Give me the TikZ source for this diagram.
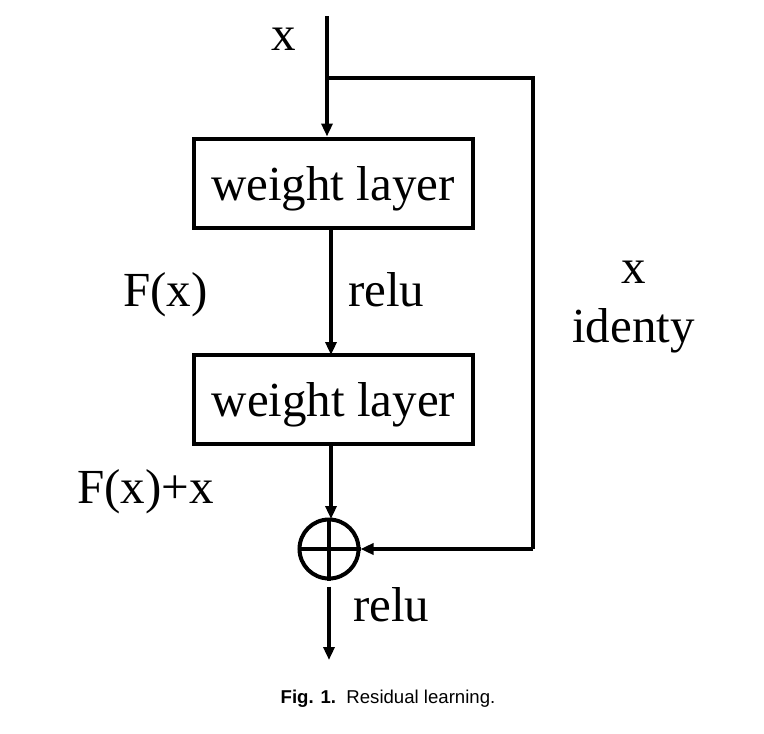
\documentclass[tikz,border=0pt]{standalone}
\usepackage{fontspec}
\setmainfont{Liberation Serif}
\newfontfamily\capfont{Liberation Sans}
\usetikzlibrary{arrows.meta}
\begin{document}
\begin{tikzpicture}[x=1pt,y=-1pt,
  every node/.style={font=\fontsize{49}{55}\selectfont},
  layerbox/.style={draw,line width=4pt,inner sep=0pt,minimum width=279pt,minimum height=89pt,text depth=0pt},
  sumnode/.style={circle,draw,line width=4pt,minimum size=59pt,inner sep=0pt},
  conn/.style={line width=4pt,-{Triangle[length=13pt,width=11pt]}},
  plain/.style={line width=4pt},
  lbl/.style={inner sep=0pt,anchor=base west}]
\useasboundingbox (0,0) rectangle (764,734);
\coordinate (in) at (327,16);
\coordinate (br) at (327,78);
\coordinate (corner1) at (533,78);
\coordinate (corner2) at (533,549);
\node[layerbox] (box1) at (333,183) {weight layer};
\node[layerbox] (box2) at (333.5,399) {weight layer};
\node[sumnode] (sum) at (329,549) {};
\coordinate (out) at (329,660);
\draw[line width=3.4pt] (sum.north) -- (sum.south) (sum.west) -- (sum.east);
\draw[conn] (in) -- (in |- box1.north);
\draw[plain] (br) -- (corner1) -- (corner2);
\draw[conn] (corner2) -- (sum.east);
\draw[conn] (331,228) -- (331,355);
\draw[conn] (box2.south -| 331,0) -- (331,519);
\draw[conn,shorten <=6pt] (sum.south) -- (out);
\node[inner sep=0pt,anchor=base] (xin) at (284,50) {x};
\node[lbl] (fx) at (123,306) {F(x)};
\node[lbl] (relu1) at (348,306) {relu};
\node[inner sep=0pt,anchor=base] (xid) at (634,283) {x};
\node[lbl] (idty) at (572,342) {identy};
\node[lbl] (fxx) at (77,503) {F(x)+x};
\node[lbl] (relu2) at (353,621) {relu};
\node[inner sep=0pt,anchor=base] (cap) at (388,703) {\capfont\fontsize{18.6}{21}\selectfont\textbf{Fig. 1.}\ \ Residual learning.};
\end{tikzpicture}
\end{document}
